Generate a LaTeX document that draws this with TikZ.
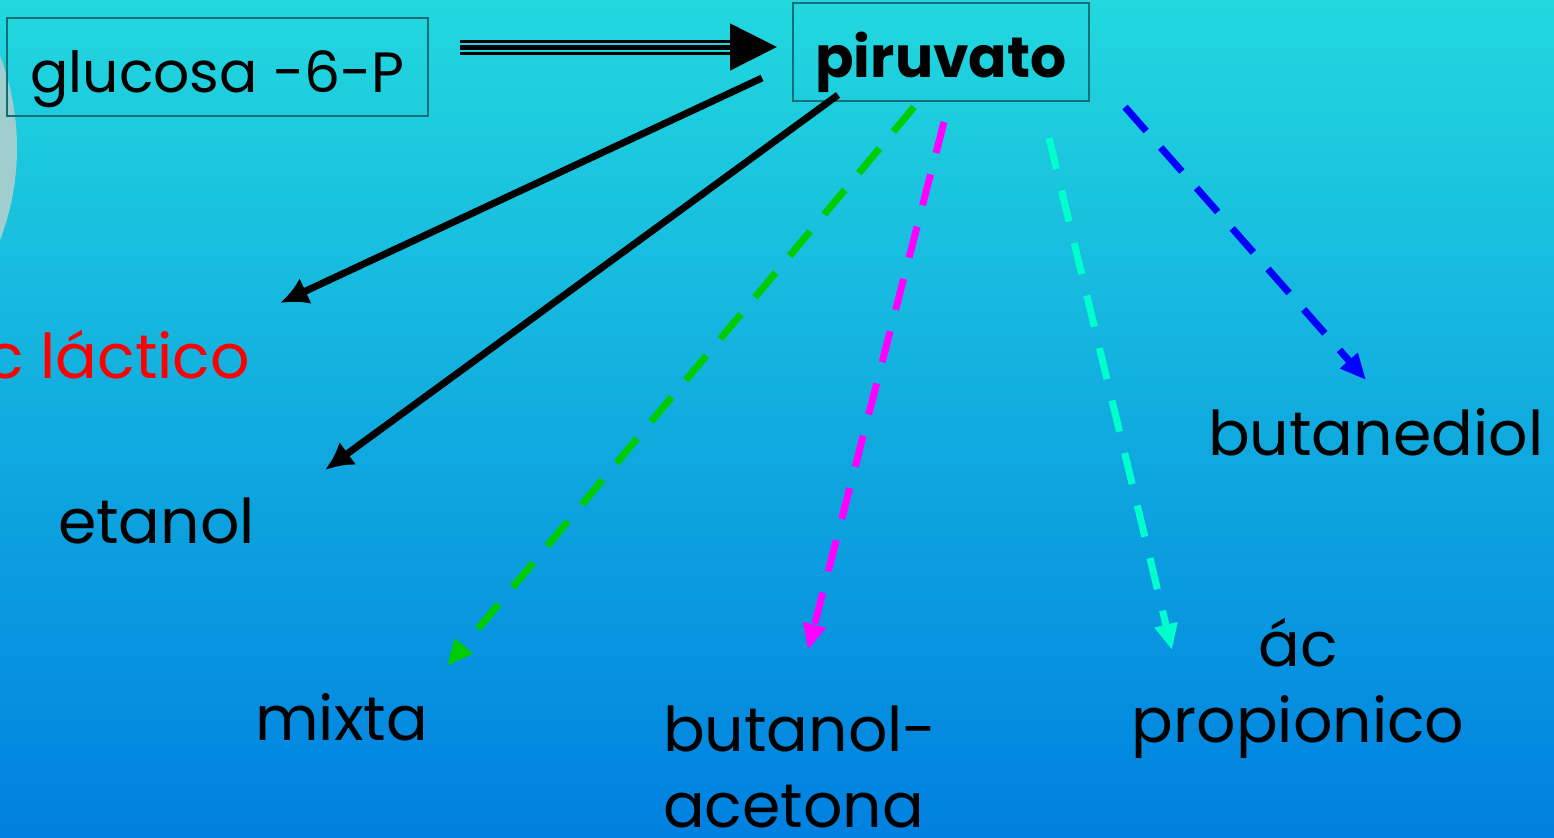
\documentclass[tikz,border=0pt]{standalone}
\usepackage{fontspec}
\setmainfont{Poppins}
\usetikzlibrary{arrows.meta}

\definecolor{topcyan}{RGB}{34,216,222}
\definecolor{botblue}{RGB}{0,128,224}
\definecolor{boxline}{RGB}{20,110,120}
\definecolor{paleblob}{RGB}{160,205,205}
\definecolor{mixgreen}{RGB}{0,204,0}
\definecolor{fuchsline}{RGB}{255,0,255}
\definecolor{aqualine}{RGB}{0,255,204}
\definecolor{darkblue}{RGB}{0,0,255}

\begin{document}
\begin{tikzpicture}[x=1bp, y=-1bp,
	every node/.style={font=\fontsize{62}{76}\selectfont, inner sep=0pt},
	compbox/.style={draw=boxline, line width=2bp, minimum width=#1, minimum height=98bp,
		text height=50bp, text depth=0bp, font=\fontsize{57}{70}\selectfont},
	solidpath/.style={line width=7bp, -{Latex[length=28bp,width=28bp]}},
	dashpath/.style={line width=7bp, dash pattern=on 32bp off 22bp, -{Triangle[length=26bp,width=22bp]}}]
	\useasboundingbox (0,0) rectangle (1554,837);
	\clip (0,0) rectangle (1554,837);
	\shade[top color=topcyan, bottom color=botblue] (0,0) rectangle (1554,837);
	\fill[paleblob] (-240,148) circle (257);
	% source and hub
	\node[compbox=421bp] (gluc) at (217.5,67) {glucosa -6-P};
	\node[compbox=296bp, font=\fontsize{57}{70}\selectfont\bfseries] (piru) at (941,52) {piruvato};
	% products
	\node[red, anchor=base east] (lact) at (250,378) {ác láctico};
	\node[anchor=base west] (etan) at (58,543) {etanol};
	\node[anchor=base west] (mixt) at (255,740) {mixta};
	\node[anchor=north west, align=left] (buta) at (663,706) {butanol-\\acetona};
	\node[anchor=north, align=center] (prop) at (1298,618) {ác\\propionico};
	\node[anchor=base west] (diol) at (1208,455) {butanediol};
	% arrow ends
	\coordinate (tripA) at (460,47);
	\coordinate (tripC) at (735,47);
	\coordinate (tripB) at (777,47);
	\coordinate (lactS) at (762,78);  \coordinate (lactE) at (280,303);
	\coordinate (etanS) at (838,95);  \coordinate (etanE) at (325,470);
	\coordinate (mixtS) at (914,107); \coordinate (mixtE) at (447,666);
	\coordinate (butaS) at (944,122); \coordinate (butaE) at (808,650);
	\coordinate (propS) at (1049,138); \coordinate (propE) at (1172,650);
	\coordinate (diolS) at (1125,107); \coordinate (diolE) at (1366,380);
	% triple arrow
	\draw[line width=3bp] ([yshift=6bp]tripA) -- ([yshift=6bp]tripC);
	\draw[line width=3bp] ([yshift=-6bp]tripA) -- ([yshift=-6bp]tripC);
	\draw[line width=5bp, -{Triangle[length=47bp,width=46bp]}] (tripA) -- (tripB);
	\draw[solidpath] (lactS) -- (lactE);
	\draw[solidpath] (etanS) -- (etanE);
	\draw[dashpath, mixgreen] (mixtS) -- (mixtE);
	\draw[dashpath, fuchsline] (butaS) -- (butaE);
	\draw[dashpath, aqualine] (propS) -- (propE);
	\draw[dashpath, darkblue] (diolS) -- (diolE);
\end{tikzpicture}
\end{document}
